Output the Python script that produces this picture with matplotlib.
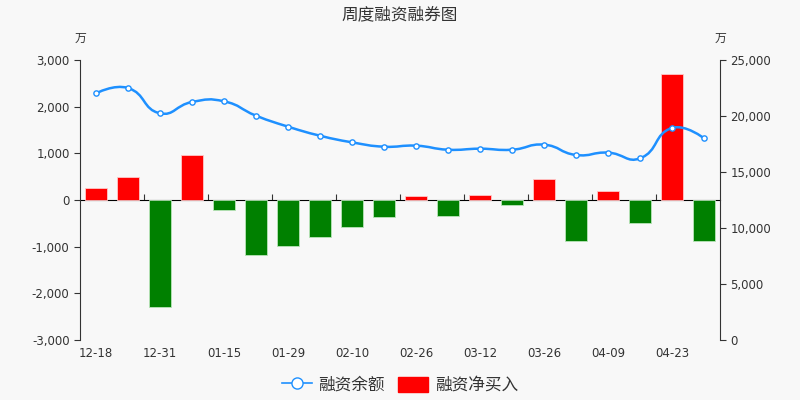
import matplotlib
matplotlib.use("Agg")
import matplotlib.pyplot as plt
from matplotlib.path import Path
from matplotlib.patches import PathPatch, Patch
from matplotlib.lines import Line2D
from matplotlib.ticker import FuncFormatter, MultipleLocator
import numpy as np

plt.rcParams['font.family'] = ['DejaVu Sans', 'Noto Sans CJK SC']

dates = ["12-18", "12-25", "12-31", "01-08", "01-15", "01-22", "01-29", "02-05",
         "02-10", "02-19", "02-26", "03-05", "03-12", "03-19", "03-26", "04-02",
         "04-09", "04-16", "04-23", "04-30"]
net_buy = [260, 490, -2290, 960, -207, -1180, -980, -800, -580, -370,
           85, -336, 107, -100, 450, -886, 193, -486, 2690, -886]
balance = [22020, 22500, 20240, 21250, 21310, 20030, 19050, 18240, 17650, 17260,
           17350, 16990, 17080, 16990, 17440, 16520, 16730, 16220, 18930, 18010]

CJK = ['Noto Sans CJK SC', 'DejaVu Sans']
bg = '#f8f8f8'
txt = '#333333'

fig = plt.figure(figsize=(8, 4), dpi=100, facecolor=bg)
ax = fig.add_axes([0.1, 0.15, 0.8, 0.7])
ax.set_facecolor(bg)
x = np.arange(len(dates))

colors = ['#ff0000' if v >= 0 else '#008000' for v in net_buy]
edges = ['#ffc8c8' if v >= 0 else '#b8e4b8' for v in net_buy]
ax.bar(x, net_buy, width=0.7, color=colors, edgecolor=edges, linewidth=0.6, zorder=2)
ax.set_xlim(-0.5, len(dates) - 0.5)
ax.set_ylim(-3000, 3000)
ax.yaxis.set_major_locator(MultipleLocator(1000))
ax.yaxis.set_major_formatter(FuncFormatter(lambda v, p: f"{int(v):,}"))

for s in ['top', 'right', 'bottom']:
    ax.spines[s].set_visible(False)
ax.spines['left'].set_color(txt)
ax.tick_params(axis='y', colors=txt, labelcolor=txt, labelsize=8.5, length=4, width=0.8)
ax.set_xticks(x[::2])
ax.set_xticklabels(dates[::2])
ax.tick_params(axis='x', length=0, labelsize=8.5, labelcolor=txt, pad=5)

# zero axis line with ticks at category boundaries
sec = ax.secondary_xaxis(0.5)
sec.set_xticks(x[2::2] - 0.5)
sec.set_xticklabels([])
sec.tick_params(axis='x', direction='out', length=4, width=0.8, colors=txt)
sec.spines['bottom'].set_color(txt)
sec.spines['bottom'].set_linewidth(0.9)

ax2 = ax.twinx()
ax2.set_ylim(0, 25000)
ax2.yaxis.set_major_locator(MultipleLocator(5000))
ax2.yaxis.set_major_formatter(FuncFormatter(lambda v, p: f"{int(v):,}"))
for s in ['top', 'left', 'bottom']:
    ax2.spines[s].set_visible(False)
ax2.spines['right'].set_color(txt)
ax2.tick_params(axis='y', colors=txt, labelcolor=txt, labelsize=8.5, length=4, width=0.8)

# smooth line (echarts-style bezier through the data points)
bx = x.astype(float)
by = np.array(balance, dtype=float)
sm = 0.5
verts = [(bx[0], by[0])]
codes = [Path.MOVETO]
n = len(bx)
cps = []
for i in range(n):
    if i == 0 or i == n - 1:
        cps.append(((bx[i], by[i]), (bx[i], by[i])))
        continue
    vx = bx[i + 1] - bx[i - 1]
    vy = by[i + 1] - by[i - 1]
    d0 = np.hypot(bx[i] - bx[i - 1], (by[i] - by[i - 1]) / 2500)
    d1 = np.hypot(bx[i + 1] - bx[i], (by[i + 1] - by[i]) / 2500)
    f0 = sm * d0 / (d0 + d1)
    f1 = sm * d1 / (d0 + d1)
    cps.append(((bx[i] - vx * f0, by[i] - vy * f0), (bx[i] + vx * f1, by[i] + vy * f1)))
for i in range(n - 1):
    verts += [cps[i][1], cps[i + 1][0], (bx[i + 1], by[i + 1])]
    codes += [Path.CURVE4] * 3
ax2.add_patch(PathPatch(Path(verts, codes), facecolor='none', edgecolor='#1e90ff', lw=1.8, zorder=3))
ax2.plot(bx, by, linestyle='none', marker='o', markersize=3.8, markerfacecolor='white',
         markeredgecolor='#1e90ff', markeredgewidth=1, zorder=4)

fig.text(0.5, 0.963, "周度融资融券图", ha='center', va='center', fontsize=12,
         family=CJK, color=txt, fontweight='medium')
fig.text(0.1, 0.905, "万", ha='center', va='center', fontsize=8.5, family=CJK, color=txt)
fig.text(0.9, 0.905, "万", ha='center', va='center', fontsize=8.5, family=CJK, color=txt)

h1 = Line2D([], [], color='#1e90ff', lw=1.2, marker='o', markersize=8,
            markerfacecolor='white', markeredgecolor='#1e90ff', markeredgewidth=1.0)
h2 = Patch(facecolor='#ff0000', edgecolor='#ff0000')
leg = fig.legend([h1, h2], ["融资余额", "融资净买入"], loc='center', bbox_to_anchor=(0.5, 0.037),
                 ncol=2, frameon=False, prop={'family': CJK, 'size': 12},
                 handlelength=1.8, handleheight=1.0, columnspacing=0.8, handletextpad=0.4)
for t in leg.get_texts():
    t.set_color('#333333')

fig.savefig("out.png", dpi=100, facecolor=bg)
